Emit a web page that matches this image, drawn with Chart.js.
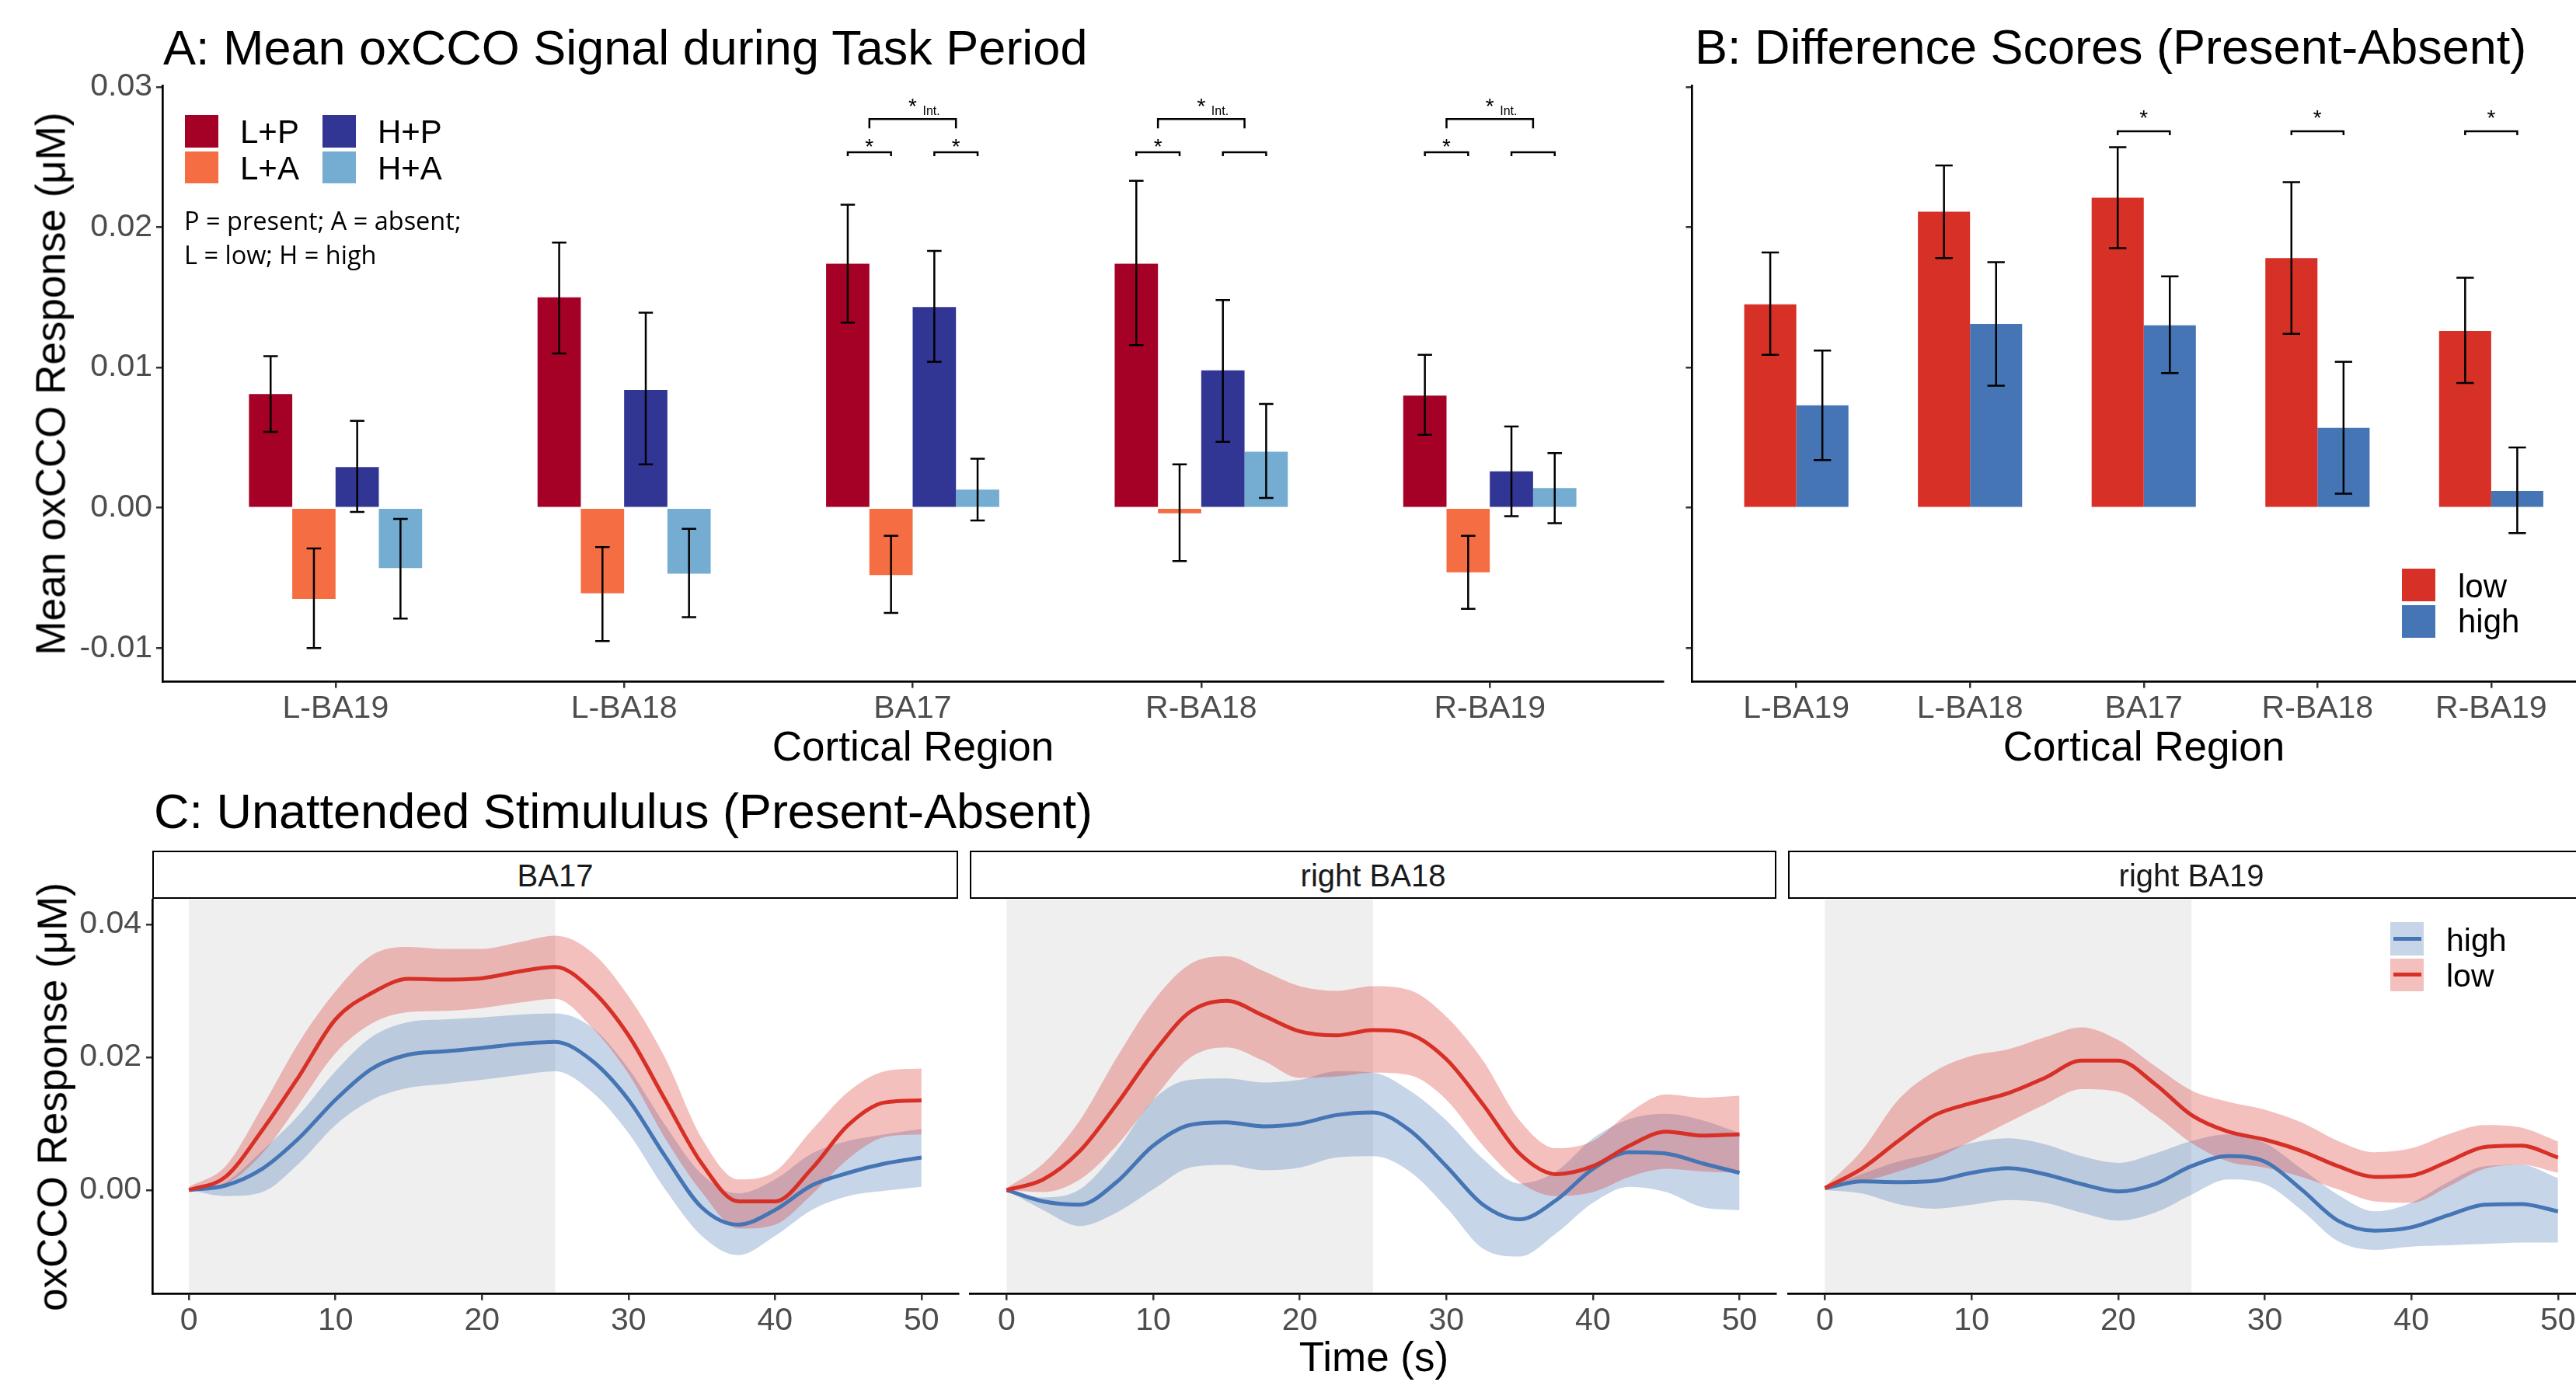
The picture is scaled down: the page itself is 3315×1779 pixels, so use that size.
<!DOCTYPE html>
<html>
<head>
<meta charset="utf-8">
<script src="https://cdn.jsdelivr.net/npm/chart.js@4.4.1/dist/chart.umd.min.js"></script>
<style>
  body { margin: 0; background: #fff; }
  #fig { position: relative; width: 3315px; height: 1779px; overflow: hidden; background: #fff;
         font-family: 'Liberation Sans', Arial, sans-serif; }
  #fig canvas { position: absolute; }
  .txt { position: absolute; white-space: nowrap; line-height: 1; color: #000; }
  .box { position: absolute; box-sizing: border-box; }
</style>
</head>
<body>
<div id="fig">
  <canvas id="chartA" width="2160" height="1000" style="left:0px;top:0px"></canvas>
  <canvas id="chartB" width="1260" height="1000" style="left:2100px;top:0px"></canvas>
  <canvas id="chartC1" width="1245" height="659" style="left:0px;top:1120px"></canvas>
  <canvas id="chartC2" width="1060" height="659" style="left:1240px;top:1120px"></canvas>
  <canvas id="chartC3" width="1100" height="659" style="left:2295px;top:1120px"></canvas>
</div>
<script>
// ---- data ----
const regions = ['L-BA19', 'L-BA18', 'BA17', 'R-BA18', 'R-BA19'];
const yTicksA = [-0.01, 0, 0.01, 0.02, 0.03];

// panel A: means and error bar ends (low/high) per condition
const lpMean = [0.0081, 0.0150, 0.0174, 0.0174, 0.0080];
const lpLow  = [0.0054, 0.0110, 0.0132, 0.0116, 0.0052];
const lpHigh = [0.0108, 0.0189, 0.0216, 0.0233, 0.0109];
const laMean = [-0.0065, -0.0061, -0.0048, -0.0004, -0.0046];
const laLow  = [-0.0100, -0.0095, -0.0075, -0.0038, -0.0072];
const laHigh = [-0.0029, -0.0028, -0.0020, 0.0031, -0.0020];
const hpMean = [0.0029, 0.0084, 0.0143, 0.0098, 0.0026];
const hpLow  = [-0.0003, 0.0031, 0.0104, 0.0047, -0.0006];
const hpHigh = [0.0062, 0.0139, 0.0183, 0.0148, 0.0058];
const haMean = [-0.0043, -0.0047, 0.0013, 0.0040, 0.0014];
const haLow  = [-0.0079, -0.0078, -0.0009, 0.0007, -0.0011];
const haHigh = [-0.0008, -0.0015, 0.0035, 0.0074, 0.0039];

// panel B: difference scores
const lowDiff      = [0.0145, 0.0211, 0.0221, 0.0178, 0.0126];
const lowDiffLow   = [0.0109, 0.0178, 0.0185, 0.0124, 0.0089];
const lowDiffHigh  = [0.0182, 0.0244, 0.0257, 0.0232, 0.0164];
const highDiff     = [0.0073, 0.0131, 0.0130, 0.0057, 0.0012];
const highDiffLow  = [0.0034, 0.0087, 0.0096, 0.0010, -0.0018];
const highDiffHigh = [0.0112, 0.0175, 0.0165, 0.0104, 0.0043];

// significance marks
const sigRegionsA = ['BA17', 'R-BA18', 'R-BA19'];
const sigLowA  = [true, true, true];
const sigHighA = [true, false, false];
const sigRegionsB = ['BA17', 'R-BA18', 'R-BA19'];

// panel C: time courses
const timeS = [0, 2.5, 5, 7.5, 10, 12.5, 15, 17.5, 20, 22.5, 25, 27.5, 30, 32.5, 35, 37.5, 40, 42.5, 45, 47.5, 50];
const timeTicks = [0, 10, 20, 30, 40, 50];
const yTicksC = [0, 0.02, 0.04];
const taskPeriod = [0, 25];

const ba17LowMean  = [0.0000, 0.0020, 0.0090, 0.0171, 0.0257, 0.0297, 0.0318, 0.0317, 0.0319, 0.0329, 0.0336, 0.0301, 0.0233, 0.0136, 0.0040, -0.0017, -0.0017, 0.0032, 0.0098, 0.0132, 0.0135];
const ba17LowUpper = [0.0005, 0.0036, 0.0125, 0.0222, 0.0299, 0.0354, 0.0366, 0.0363, 0.0363, 0.0373, 0.0383, 0.0358, 0.0292, 0.0199, 0.0078, 0.0016, 0.0028, 0.0090, 0.0148, 0.0179, 0.0183];
const ba17LowLower = [0.0000, 0.0009, 0.0055, 0.0129, 0.0206, 0.0251, 0.0268, 0.0270, 0.0274, 0.0282, 0.0288, 0.0245, 0.0175, 0.0078, -0.0003, -0.0058, -0.0052, -0.0007, 0.0047, 0.0080, 0.0084];
const ba17HighMean  = [0.0000, 0.0007, 0.0032, 0.0078, 0.0136, 0.0183, 0.0204, 0.0209, 0.0214, 0.0220, 0.0223, 0.0195, 0.0136, 0.0051, -0.0026, -0.0052, -0.0030, 0.0007, 0.0026, 0.0040, 0.0049];
const ba17HighUpper = [0.0000, 0.0012, 0.0059, 0.0113, 0.0179, 0.0231, 0.0253, 0.0257, 0.0260, 0.0264, 0.0266, 0.0245, 0.0183, 0.0098, 0.0024, -0.0005, 0.0016, 0.0055, 0.0074, 0.0084, 0.0092];
const ba17HighLower = [0.0000, -0.0009, -0.0003, 0.0040, 0.0098, 0.0136, 0.0154, 0.0160, 0.0166, 0.0173, 0.0179, 0.0148, 0.0086, 0.0001, -0.0069, -0.0098, -0.0069, -0.0030, -0.0009, -0.0001, 0.0005];

const rba18LowMean  = [0.0000, 0.0016, 0.0059, 0.0129, 0.0206, 0.0268, 0.0285, 0.0263, 0.0239, 0.0233, 0.0241, 0.0235, 0.0197, 0.0129, 0.0055, 0.0024, 0.0036, 0.0067, 0.0088, 0.0082, 0.0084];
const rba18LowUpper = [0.0003, 0.0040, 0.0105, 0.0199, 0.0284, 0.0340, 0.0352, 0.0330, 0.0307, 0.0300, 0.0307, 0.0301, 0.0261, 0.0195, 0.0105, 0.0063, 0.0074, 0.0117, 0.0144, 0.0139, 0.0142];
const rba18LowLower = [0.0000, -0.0003, 0.0016, 0.0067, 0.0136, 0.0199, 0.0215, 0.0195, 0.0169, 0.0171, 0.0177, 0.0173, 0.0136, 0.0067, 0.0012, -0.0009, -0.0003, 0.0020, 0.0032, 0.0028, 0.0026];
const rba18HighMean  = [0.0000, -0.0017, -0.0022, 0.0012, 0.0067, 0.0098, 0.0102, 0.0096, 0.0100, 0.0113, 0.0117, 0.0090, 0.0036, -0.0022, -0.0044, -0.0015, 0.0032, 0.0057, 0.0055, 0.0040, 0.0026];
const rba18HighUpper = [0.0000, -0.0011, 0.0001, 0.0059, 0.0136, 0.0166, 0.0168, 0.0162, 0.0166, 0.0179, 0.0177, 0.0150, 0.0105, 0.0047, 0.0010, 0.0028, 0.0078, 0.0107, 0.0115, 0.0105, 0.0086];
const rba18HighLower = [0.0000, -0.0030, -0.0054, -0.0034, 0.0001, 0.0034, 0.0038, 0.0030, 0.0034, 0.0049, 0.0051, 0.0028, -0.0026, -0.0088, -0.0100, -0.0065, -0.0019, 0.0005, -0.0003, -0.0026, -0.0030];

const rba19LowMean  = [0.0003, 0.0032, 0.0074, 0.0113, 0.0131, 0.0146, 0.0169, 0.0195, 0.0195, 0.0160, 0.0113, 0.0088, 0.0076, 0.0059, 0.0036, 0.0020, 0.0022, 0.0043, 0.0065, 0.0067, 0.0049];
const rba19LowUpper = [0.0005, 0.0059, 0.0136, 0.0179, 0.0202, 0.0212, 0.0230, 0.0245, 0.0226, 0.0187, 0.0150, 0.0133, 0.0121, 0.0102, 0.0074, 0.0057, 0.0063, 0.0084, 0.0098, 0.0094, 0.0073];
const rba19LowLower = [0.0000, 0.0012, 0.0028, 0.0047, 0.0074, 0.0102, 0.0129, 0.0152, 0.0148, 0.0113, 0.0071, 0.0043, 0.0034, 0.0020, 0.0001, -0.0017, -0.0019, 0.0005, 0.0032, 0.0038, 0.0026];
const rba19HighMean  = [0.0003, 0.0013, 0.0012, 0.0014, 0.0026, 0.0033, 0.0024, 0.0009, -0.0002, 0.0009, 0.0036, 0.0051, 0.0043, 0.0001, -0.0046, -0.0061, -0.0056, -0.0038, -0.0022, -0.0021, -0.0032];
const rba19HighUpper = [0.0003, 0.0024, 0.0043, 0.0055, 0.0071, 0.0078, 0.0069, 0.0051, 0.0041, 0.0055, 0.0074, 0.0084, 0.0071, 0.0032, -0.0007, -0.0032, -0.0019, 0.0012, 0.0036, 0.0038, 0.0018];
const rba19HighLower = [0.0000, -0.0005, -0.0021, -0.0028, -0.0022, -0.0015, -0.0019, -0.0034, -0.0046, -0.0034, -0.0007, 0.0016, 0.0009, -0.0030, -0.0077, -0.0090, -0.0085, -0.0083, -0.0081, -0.0079, -0.0079];

// ---- styling ----
const FONT = "'Liberation Sans', Arial, sans-serif";
Chart.defaults.font.family = FONT;
Chart.defaults.color = '#4D4D4D';

const RED = '#D73027', BLUE = '#4575B4';
const RED_FILL = 'rgba(215, 48, 39, 0.3)', BLUE_FILL = 'rgba(69, 117, 180, 0.3)';

const axisBorder = { display: true, color: '#000', width: 2.7 };
const tickGrid = { display: true, offset: false, drawOnChartArea: false, drawTicks: true, tickLength: 8, color: '#333333', lineWidth: 2.5 };
const tickFont = { family: FONT, size: 41 };

const setTicks = (vals) => (scale) => { scale.ticks = vals.map(v => ({ value: v })); };

// error bars drawn from each dataset's errLow/errHigh arrays
const errorBars = {
  id: 'errorBars',
  afterDatasetsDraw(chart, args, opts) {
    const { ctx, scales: { x, y } } = chart;
    const half = (x.getPixelForValue(opts.capWidth) - x.getPixelForValue(0)) / 2;
    ctx.save();
    ctx.strokeStyle = '#000';
    ctx.lineWidth = 2.5;
    chart.data.datasets.forEach((ds, di) => {
      if (!ds.errLow) return;
      chart.getDatasetMeta(di).data.forEach((bar, i) => {
        const y0 = y.getPixelForValue(ds.errLow[i]);
        const y1 = y.getPixelForValue(ds.errHigh[i]);
        ctx.beginPath();
        ctx.moveTo(bar.x, y0); ctx.lineTo(bar.x, y1);
        ctx.moveTo(bar.x - half, y0); ctx.lineTo(bar.x + half, y0);
        ctx.moveTo(bar.x - half, y1); ctx.lineTo(bar.x + half, y1);
        ctx.stroke();
      });
    });
    ctx.restore();
  }
};

// significance brackets above bar pairs
const sigBrackets = {
  id: 'sigBrackets',
  afterDatasetsDraw(chart, args, opts) {
    const { ctx, scales: { y } } = chart;
    const bx = (di, i) => chart.getDatasetMeta(di).data[i].x;
    ctx.save();
    ctx.strokeStyle = '#000';
    ctx.fillStyle = '#000';
    ctx.lineWidth = 2.5;
    const bracket = (x0, x1, level, leg) => {
      const yp = y.getPixelForValue(level);
      ctx.beginPath();
      ctx.moveTo(x0, yp + leg); ctx.lineTo(x0, yp); ctx.lineTo(x1, yp); ctx.lineTo(x1, yp + leg);
      ctx.stroke();
    };
    const star = (xc, level) => {
      ctx.font = '28px ' + FONT;
      ctx.textAlign = 'center';
      ctx.textBaseline = 'alphabetic';
      ctx.fillText('*', xc, y.getPixelForValue(level) + 16);
    };
    opts.regions.forEach((name, k) => {
      const i = regions.indexOf(name);
      const mids = [];
      opts.pairs.forEach((pair, p) => {
        const x0 = bx(pair[0], i), x1 = bx(pair[1], i);
        bracket(x0, x1, opts.level, opts.leg);
        if (opts.stars[p][k]) star((x0 + x1) / 2, opts.starLevel);
        mids.push((x0 + x1) / 2);
      });
      if (opts.interaction) {
        const it = opts.interaction;
        bracket(mids[0], mids[1], it.level, it.leg);
        const xc = (mids[0] + mids[1]) / 2;
        star(xc, it.starLevel);
        ctx.font = '16px ' + FONT;
        ctx.textAlign = 'left';
        ctx.fillText('Int.', xc + 13, y.getPixelForValue(it.labelLevel) + 6);
      }
    });
    ctx.restore();
  }
};

// grey task-period shading behind the curves
const taskShade = {
  id: 'taskShade',
  beforeDraw(chart) {
    const { ctx, chartArea, scales: { x } } = chart;
    const x0 = x.getPixelForValue(taskPeriod[0]);
    const x1 = x.getPixelForValue(taskPeriod[1]);
    ctx.save();
    ctx.fillStyle = '#EFEFEF';
    ctx.fillRect(x0, chartArea.top, x1 - x0, chartArea.bottom - chartArea.top);
    ctx.restore();
  }
};

const pts = (xs, ys) => xs.map((v, i) => ({ x: v, y: ys[i] }));
const idx = regions.map((r, i) => i);

function regionAxis(height) {
  return {
    type: 'linear', min: -0.6, max: 4.6, offset: false,
    afterBuildTicks: setTicks(idx),
    afterFit: (s) => { s.height = height; },
    ticks: { callback: (v) => regions[v], font: tickFont, padding: 2, maxRotation: 0, autoSkip: false },
    grid: tickGrid, border: axisBorder
  };
}

// ---- panel A ----
new Chart(document.getElementById('chartA'), {
  type: 'bar',
  data: {
    datasets: [
      { label: 'L+P', data: pts(idx, lpMean), backgroundColor: '#A50026', errLow: lpLow, errHigh: lpHigh },
      { label: 'L+A', data: pts(idx, laMean), backgroundColor: '#F46D43', errLow: laLow, errHigh: laHigh },
      { label: 'H+P', data: pts(idx, hpMean), backgroundColor: '#313695', errLow: hpLow, errHigh: hpHigh },
      { label: 'H+A', data: pts(idx, haMean), backgroundColor: '#74ADD1', errLow: haLow, errHigh: haHigh }
    ]
  },
  options: {
    responsive: false, animation: false, events: [],
    layout: { padding: { left: 0, top: 110, right: 20, bottom: 0 } },
    datasets: { bar: { categoryPercentage: 0.6, barPercentage: 1, borderWidth: 0 } },
    plugins: {
      legend: { display: false }, tooltip: { enabled: false },
      errorBars: { capWidth: 0.05 },
      sigBrackets: {
        regions: sigRegionsA, pairs: [[0, 1], [2, 3]], stars: [sigLowA, sigHighA],
        level: 0.02534, leg: 5, starLevel: 0.02613,
        interaction: { level: 0.02771, leg: 12, starLevel: 0.0290, labelLevel: 0.02835 }
      }
    },
    scales: {
      x: regionAxis(122.4),
      y: {
        min: -0.0124, max: 0.0301,
        afterBuildTicks: setTicks(yTicksA),
        afterFit: (s) => { s.width = 209; },
        ticks: { callback: (v) => v.toFixed(2), font: tickFont, padding: 5 },
        grid: tickGrid, border: axisBorder
      }
    }
  },
  plugins: [errorBars, sigBrackets]
});

// ---- panel B ----
new Chart(document.getElementById('chartB'), {
  type: 'bar',
  data: {
    datasets: [
      { label: 'low', data: pts(idx, lowDiff), backgroundColor: RED, errLow: lowDiffLow, errHigh: lowDiffHigh },
      { label: 'high', data: pts(idx, highDiff), backgroundColor: BLUE, errLow: highDiffLow, errHigh: highDiffHigh }
    ]
  },
  options: {
    responsive: false, animation: false, events: [],
    layout: { padding: { left: 0, top: 110, right: 20, bottom: 0 } },
    datasets: { bar: { categoryPercentage: 0.6, barPercentage: 1, borderWidth: 0 } },
    plugins: {
      legend: { display: false }, tooltip: { enabled: false },
      errorBars: { capWidth: 0.1 },
      sigBrackets: {
        regions: sigRegionsB, pairs: [[0, 1]], stars: [[true, true, true]],
        level: 0.02684, leg: 5, starLevel: 0.02815
      }
    },
    scales: {
      x: regionAxis(122.4),
      y: {
        min: -0.0124, max: 0.0301,
        afterBuildTicks: setTicks(yTicksA),
        afterFit: (s) => { s.width = 77.5; },
        ticks: { display: false },
        grid: tickGrid, border: axisBorder
      }
    }
  },
  plugins: [errorBars, sigBrackets]
});

// ---- panel C facets ----
function facetChart(id, lowMean, lowUpper, lowLower, highMean, highUpper, highLower, showY, padLeft, padRight) {
  const line = { pointRadius: 0, cubicInterpolationMode: 'monotone' };
  return new Chart(document.getElementById(id), {
    type: 'line',
    data: {
      datasets: [
        { ...line, label: 'high upper', data: pts(timeS, highUpper), fill: '+1', backgroundColor: BLUE_FILL, borderWidth: 0, order: 3 },
        { ...line, label: 'high lower', data: pts(timeS, highLower), fill: false, borderWidth: 0, order: 3 },
        { ...line, label: 'low upper', data: pts(timeS, lowUpper), fill: '+1', backgroundColor: RED_FILL, borderWidth: 0, order: 2 },
        { ...line, label: 'low lower', data: pts(timeS, lowLower), fill: false, borderWidth: 0, order: 2 },
        { ...line, label: 'high', data: pts(timeS, highMean), borderColor: BLUE, borderWidth: 5, fill: false, order: 1 },
        { ...line, label: 'low', data: pts(timeS, lowMean), borderColor: RED, borderWidth: 5, fill: false, order: 0 }
      ]
    },
    options: {
      responsive: false, animation: false, events: [],
      layout: { padding: { left: padLeft, top: 38, right: padRight, bottom: 0 } },
      plugins: { legend: { display: false }, tooltip: { enabled: false } },
      scales: {
        x: {
          type: 'linear', min: -2.5, max: 52.5,
          afterBuildTicks: setTicks(timeTicks),
          afterFit: (s) => { s.height = 113.3; },
          ticks: { font: tickFont, padding: 2, maxRotation: 0, autoSkip: false },
          grid: tickGrid, border: axisBorder
        },
        y: {
          display: showY,
          min: -0.01564, max: 0.04374,
          afterBuildTicks: setTicks(yTicksC),
          afterFit: (s) => { s.width = showY ? 196 : 0; },
          ticks: { callback: (v) => v.toFixed(2), font: tickFont, padding: 6 },
          grid: tickGrid, border: axisBorder
        }
      }
    },
    plugins: [taskShade]
  });
}

facetChart('chartC1', ba17LowMean, ba17LowUpper, ba17LowLower, ba17HighMean, ba17HighUpper, ba17HighLower, true, 0, 12);
facetChart('chartC2', rba18LowMean, rba18LowUpper, rba18LowLower, rba18HighMean, rba18HighUpper, rba18HighLower, false, 8.2, 14.3);
facetChart('chartC3', rba19LowMean, rba19LowUpper, rba19LowLower, rba19HighMean, rba19HighUpper, rba19HighLower, false, 6.3, 56);

// ---- text, strips, legends ----
const fig = document.getElementById('fig');

function addText(str, x, baseline, size, opts = {}) {
  const d = document.createElement('div');
  d.className = 'txt';
  d.textContent = str;
  d.style.fontSize = size + 'px';
  if (opts.family) d.style.fontFamily = opts.family;
  if (opts.color) d.style.color = opts.color;
  d.style.left = x + 'px';
  d.style.top = (baseline - (opts.asc || 0.8465) * size) + 'px';
  if (opts.center) d.style.transform = 'translateX(-50%)';
  fig.appendChild(d);
}

function addVText(str, cx, cy, size) {
  const d = document.createElement('div');
  d.className = 'txt';
  d.textContent = str;
  d.style.fontSize = size + 'px';
  d.style.left = cx + 'px';
  d.style.top = cy + 'px';
  d.style.transform = 'translate(-50%, -50%) rotate(-90deg)';
  fig.appendChild(d);
}

function addBox(x, y, w, h, css) {
  const d = document.createElement('div');
  d.className = 'box';
  Object.assign(d.style, { left: x + 'px', top: y + 'px', width: w + 'px', height: h + 'px' }, css);
  fig.appendChild(d);
}

addText('A: Mean oxCCO Signal during Task Period', 210, 83, 63);
addText('B: Difference Scores (Present-Absent)', 2181, 82, 63);
addText('C: Unattended Stimululus (Present-Absent)', 198, 1066, 63);

addVText('Mean oxCCO Response (μM)', 65, 494, 53);
addVText('oxCCO Response (μM)', 67, 1412, 53);
addText('Cortical Region', 1175, 979, 53, { center: true });
addText('Cortical Region', 2759, 979, 53, { center: true });
addText('Time (s)', 1768, 1765, 53, { center: true });

// facet strips
const stripNames = ['BA17', 'right BA18', 'right BA19'];
const stripX = [[196, 1233], [1248, 2286], [2301, 3339]];
stripNames.forEach((name, i) => {
  const [x0, x1] = stripX[i];
  addBox(x0, 1095, x1 - x0, 62, { border: '2.7px solid #000', background: '#fff' });
  addText(name, (x0 + x1) / 2, 1141, 40, { center: true, color: '#1A1A1A' });
});

// legend A
const legendA = [['L+P', '#A50026', 238, 148], ['L+A', '#F46D43', 238, 194.5], ['H+P', '#313695', 415, 148], ['H+A', '#74ADD1', 415, 194.5]];
legendA.forEach(([label, color, x, y]) => {
  addBox(x, y, 43, 41.5, { background: color });
  addText(label, x + 71, y + 37, 42);
});
addText('P = present; A = absent;', 237, 296.6, 32.5, { family: "'Open Sans', sans-serif", asc: 0.888 });
addText('L = low; H = high', 237, 341, 32.5, { family: "'Open Sans', sans-serif", asc: 0.888 });

// legend B
addBox(3091, 732.3, 42.5, 41.7, { background: RED });
addBox(3091, 778.7, 42.5, 42, { background: BLUE });
addText('low', 3163, 770, 42);
addText('high', 3163, 815, 42);

// legend C
[['high', BLUE, BLUE_FILL, 1187], ['low', RED, RED_FILL, 1233.6]].forEach(([label, line, fill, y]) => {
  addBox(3075.5, y, 43.4, 42.6, { background: fill });
  addBox(3080, y + 18.8, 35.6, 5, { background: line });
  addText(label, 3148, y + 37.6, 41);
});
</script>
</body>
</html>
